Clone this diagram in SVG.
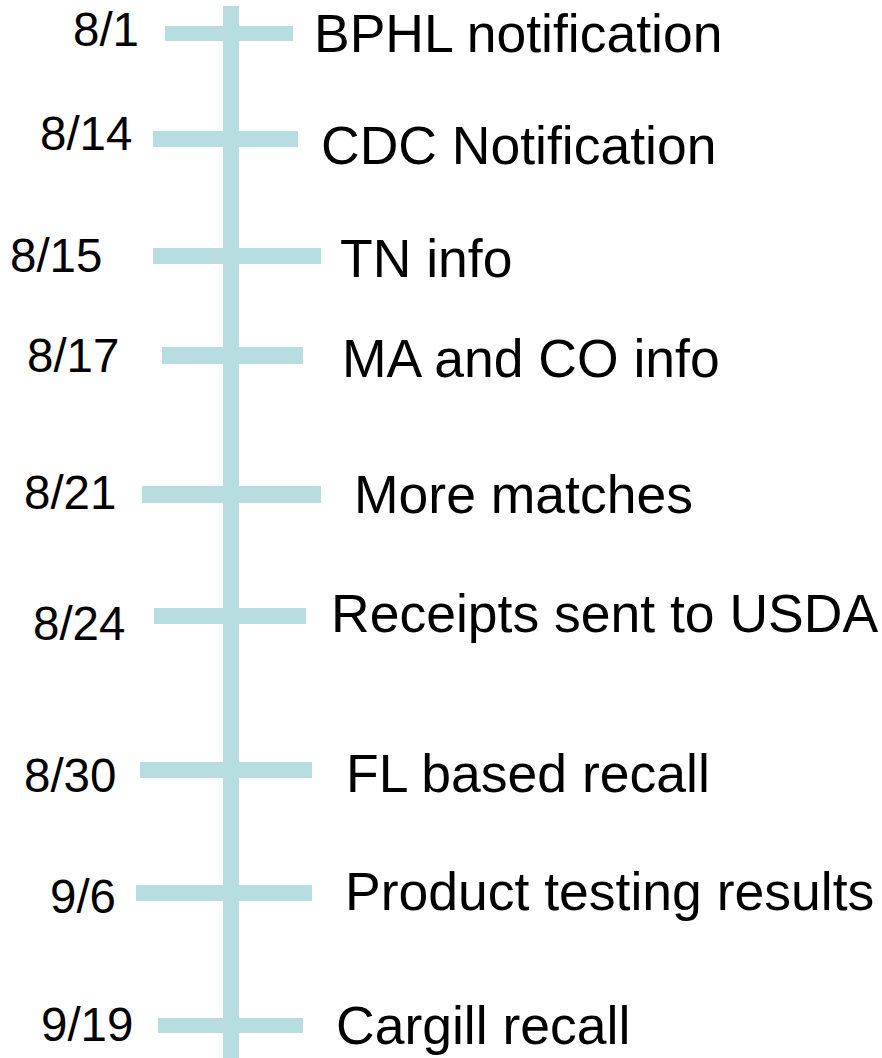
<svg xmlns="http://www.w3.org/2000/svg" width="882" height="1058" viewBox="0 0 882 1058">
<style>
.bar{fill:#b7dde0}
.d{font-family:"Liberation Sans",Arial,sans-serif;font-size:47.5px;fill:#000}
.l{font-family:"Liberation Sans",Arial,sans-serif;font-size:53.5px;fill:#000}
</style>
<rect width="882" height="1058" fill="#fff"/>
<g id="connectors">
<rect class="bar" x="223" y="6" width="16" height="1052"/>
</g>
<g id="e1"><rect class="bar" x="165" y="26" width="128" height="15"/><text class="d" x="73" y="46">8/1</text><text class="l" x="314" y="52">BPHL notification</text></g>
<g id="e2"><rect class="bar" x="153" y="131" width="145" height="16"/><text class="d" x="40" y="150">8/14</text><text class="l" x="321" y="164">CDC Notification</text></g>
<g id="e3"><rect class="bar" x="153" y="248" width="168" height="16"/><text class="d" x="10" y="272">8/15</text><text class="l" x="340" y="277">TN info</text></g>
<g id="e4"><rect class="bar" x="162" y="347" width="141" height="17"/><text class="d" x="27" y="372">8/17</text><text class="l" x="342" y="377">MA and CO info</text></g>
<g id="e5"><rect class="bar" x="142" y="486" width="179" height="17"/><text class="d" x="24" y="509">8/21</text><text class="l" x="354" y="513">More matches</text></g>
<g id="e6"><rect class="bar" x="154" y="608" width="152" height="16"/><text class="d" x="33" y="640">8/24</text><text class="l" x="331" y="632">Receipts sent to USDA</text></g>
<g id="e7"><rect class="bar" x="140" y="762" width="172" height="16"/><text class="d" x="24" y="792">8/30</text><text class="l" x="346" y="792">FL based recall</text></g>
<g id="e8"><rect class="bar" x="136" y="885" width="176" height="16"/><text class="d" x="50" y="913">9/6</text><text class="l" x="345" y="910">Product testing results</text></g>
<g id="e9"><rect class="bar" x="158" y="1018" width="145" height="15"/><text class="d" x="41" y="1041">9/19</text><text class="l" x="336" y="1044">Cargill recall</text></g>
</svg>
